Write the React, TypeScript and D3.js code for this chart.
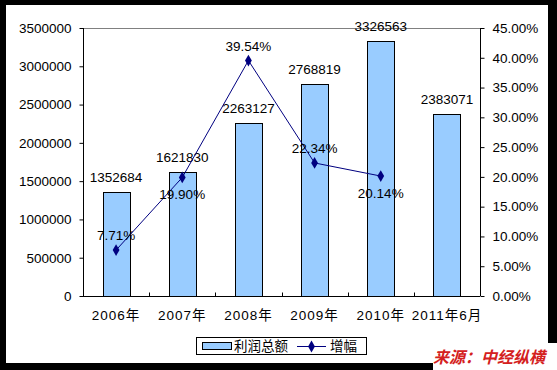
import React, { useEffect, useRef } from "react";
import * as d3 from "d3";

const categories = ["2006年", "2007年", "2008年", "2009年", "2010年", "2011年6月"];
const profits = [1352684, 1621830, 2263127, 2768819, 3326563, 2383071];
const growth = [7.71, 19.9, 39.54, 22.34, 20.14];
const growthLabelSide = ["up", "down", "up", "up", "down"];
const leftTicks = [0, 500000, 1000000, 1500000, 2000000, 2500000, 3000000, 3500000];
const rightTicks = [0, 5, 10, 15, 20, 25, 30, 35, 40, 45];

const W = 557;
const H = 370;
const FONT = "'Liberation Sans', Arial, 'Noto Sans CJK SC', sans-serif";
const CJK = "'Liberation Sans', Arial, 'Noto Sans CJK SC', sans-serif";

const App = () => {
  const ref = useRef<SVGSVGElement>(null);

  useEffect(() => {
    drawChart();
  }, []);

  const drawChart = () => {
    const svg = d3.select(ref.current);
    svg.selectAll("*").remove();

    const left = 83;
    const right = 480;
    const top = 28;
    const bottom = 296;

    // outer frame
    svg.append("rect").attr("width", W).attr("height", H).attr("fill", "#000");
    svg.append("rect").attr("x", 6).attr("y", 5).attr("width", 542).attr("height", 358).attr("fill", "#fff");

    const x = d3.scaleBand().domain(categories).range([left, right]);
    const y = d3.scaleLinear().domain([0, 3500000]).range([bottom, top]);
    const y2 = d3.scaleLinear().domain([0, 45]).range([bottom, top]);

    // top border of plot area
    svg.append("line")
      .attr("x1", left).attr("x2", right).attr("y1", top + 0.5).attr("y2", top + 0.5)
      .attr("stroke", "#808080");

    // bars
    const bw = x.bandwidth() * 0.41;
    svg.selectAll(".bar")
      .data(profits)
      .enter()
      .append("rect")
      .attr("class", "bar")
      .attr("x", (d, i) => Math.round(x(categories[i])! + x.bandwidth() / 2 - bw / 2) + 0.5)
      .attr("y", (d) => Math.round(y(d)) + 0.5)
      .attr("width", Math.round(bw))
      .attr("height", (d) => bottom - Math.round(y(d)))
      .attr("fill", "#99ccff")
      .attr("stroke", "#000")
      .attr("stroke-width", 1);

    // bar labels
    svg.selectAll(".blabel")
      .data(profits)
      .enter()
      .append("text")
      .attr("x", (d, i) => x(categories[i])! + x.bandwidth() / 2)
      .attr("y", (d) => y(d) - 10)
      .attr("text-anchor", "middle")
      .attr("font-family", FONT)
      .attr("font-size", 13.5)
      .attr("fill", "#000")
      .text((d) => String(d));

    // left axis
    const gl = svg.append("g").attr("transform", `translate(${left + 0.5},0)`);
    gl.call(d3.axisLeft(y).tickValues(leftTicks).tickSize(4).tickPadding(8).tickFormat((d) => String(d)));
    // right axis
    const gr = svg.append("g").attr("transform", `translate(${right + 0.5},0)`);
    gr.call(d3.axisRight(y2).tickValues(rightTicks).tickSize(4).tickPadding(8).tickFormat((d) => (+d).toFixed(2) + "%"));
    // bottom axis
    const gb = svg.append("g").attr("transform", `translate(0,${bottom + 0.5})`);
    gb.call(d3.axisBottom(x).tickSize(0).tickPadding(14));
    gb.selectAll(".tick text").attr("font-family", CJK).attr("letter-spacing", 1);
    const bounds = categories.slice(1).map((c) => x(c)!);
    gb.selectAll(".btick")
      .data(bounds)
      .enter()
      .append("line")
      .attr("x1", (d) => Math.round(d) + 0.5)
      .attr("x2", (d) => Math.round(d) + 0.5)
      .attr("y1", 0)
      .attr("y2", -4)
      .attr("stroke", "#000");

    [gl, gr, gb].forEach((g) => {
      g.selectAll(".domain").attr("stroke", "#000").attr("d", null);
      g.selectAll("text").attr("font-size", 13.5).attr("fill", "#000");
      if (g !== gb) g.selectAll("text").attr("font-family", FONT);
    });
    gl.select(".domain").attr("d", `M0,${top}V${bottom}`);
    gr.select(".domain").attr("d", `M0,${top}V${bottom}`);
    gb.select(".domain").attr("d", `M${left},0H${right}`);

    // growth line
    const pts = growth.map((g, i) => [x(categories[i])! + x.bandwidth() / 2, y2(g)] as [number, number]);
    svg.append("path")
      .attr("d", d3.line()(pts))
      .attr("fill", "none")
      .attr("stroke", "#000080")
      .attr("stroke-width", 1);
    const diamond = d3.symbol().type(d3.symbolDiamond).size(40);
    svg.selectAll(".pt")
      .data(pts)
      .enter()
      .append("path")
      .attr("d", diamond)
      .attr("transform", (d) => `translate(${d[0]},${d[1]})`)
      .attr("fill", "#000080");
    svg.selectAll(".glabel")
      .data(growth)
      .enter()
      .append("text")
      .attr("x", (d, i) => pts[i][0])
      .attr("y", (d, i) => (growthLabelSide[i] === "up" ? pts[i][1] - 10 : pts[i][1] + 22))
      .attr("text-anchor", "middle")
      .attr("font-family", FONT)
      .attr("font-size", 13.5)
      .attr("fill", "#000")
      .text((d) => d.toFixed(2) + "%");

    // legend
    const lg = svg.append("g");
    lg.append("rect").attr("x", 196.5).attr("y", 337.5).attr("width", 170).attr("height", 17)
      .attr("fill", "#fff").attr("stroke", "#000");
    lg.append("rect").attr("x", 202.5).attr("y", 342.5).attr("width", 29).attr("height", 7)
      .attr("fill", "#99ccff").attr("stroke", "#000");
    lg.append("text").attr("x", 234).attr("y", 351).attr("font-family", CJK).attr("font-size", 13.5)
      .text("利润总额");
    lg.append("line").attr("x1", 297).attr("x2", 326).attr("y1", 346.5).attr("y2", 346.5)
      .attr("stroke", "#000080");
    lg.append("path").attr("d", diamond).attr("transform", "translate(311.5,346.5)").attr("fill", "#000080");
    lg.append("text").attr("x", 330).attr("y", 351).attr("font-family", CJK).attr("font-size", 13.5)
      .text("增幅");

    // source watermark
    svg.append("rect").attr("x", 433).attr("y", 343).attr("width", W - 433).attr("height", H - 343).attr("fill", "#fff");
    svg.append("text")
      .attr("x", 433).attr("y", 363)
      .attr("font-family", "'Noto Sans CJK SC', sans-serif")
      .attr("font-size", 16)
      .attr("font-weight", "bold")
      .attr("font-style", "italic")
      .attr("fill", "#d42020")
      .text("来源：中经纵横");
  };

  return (
    <svg ref={ref} width={W} height={H} style={{ position: "absolute", left: 0, top: 0 }} />
  );
};

export default App;
